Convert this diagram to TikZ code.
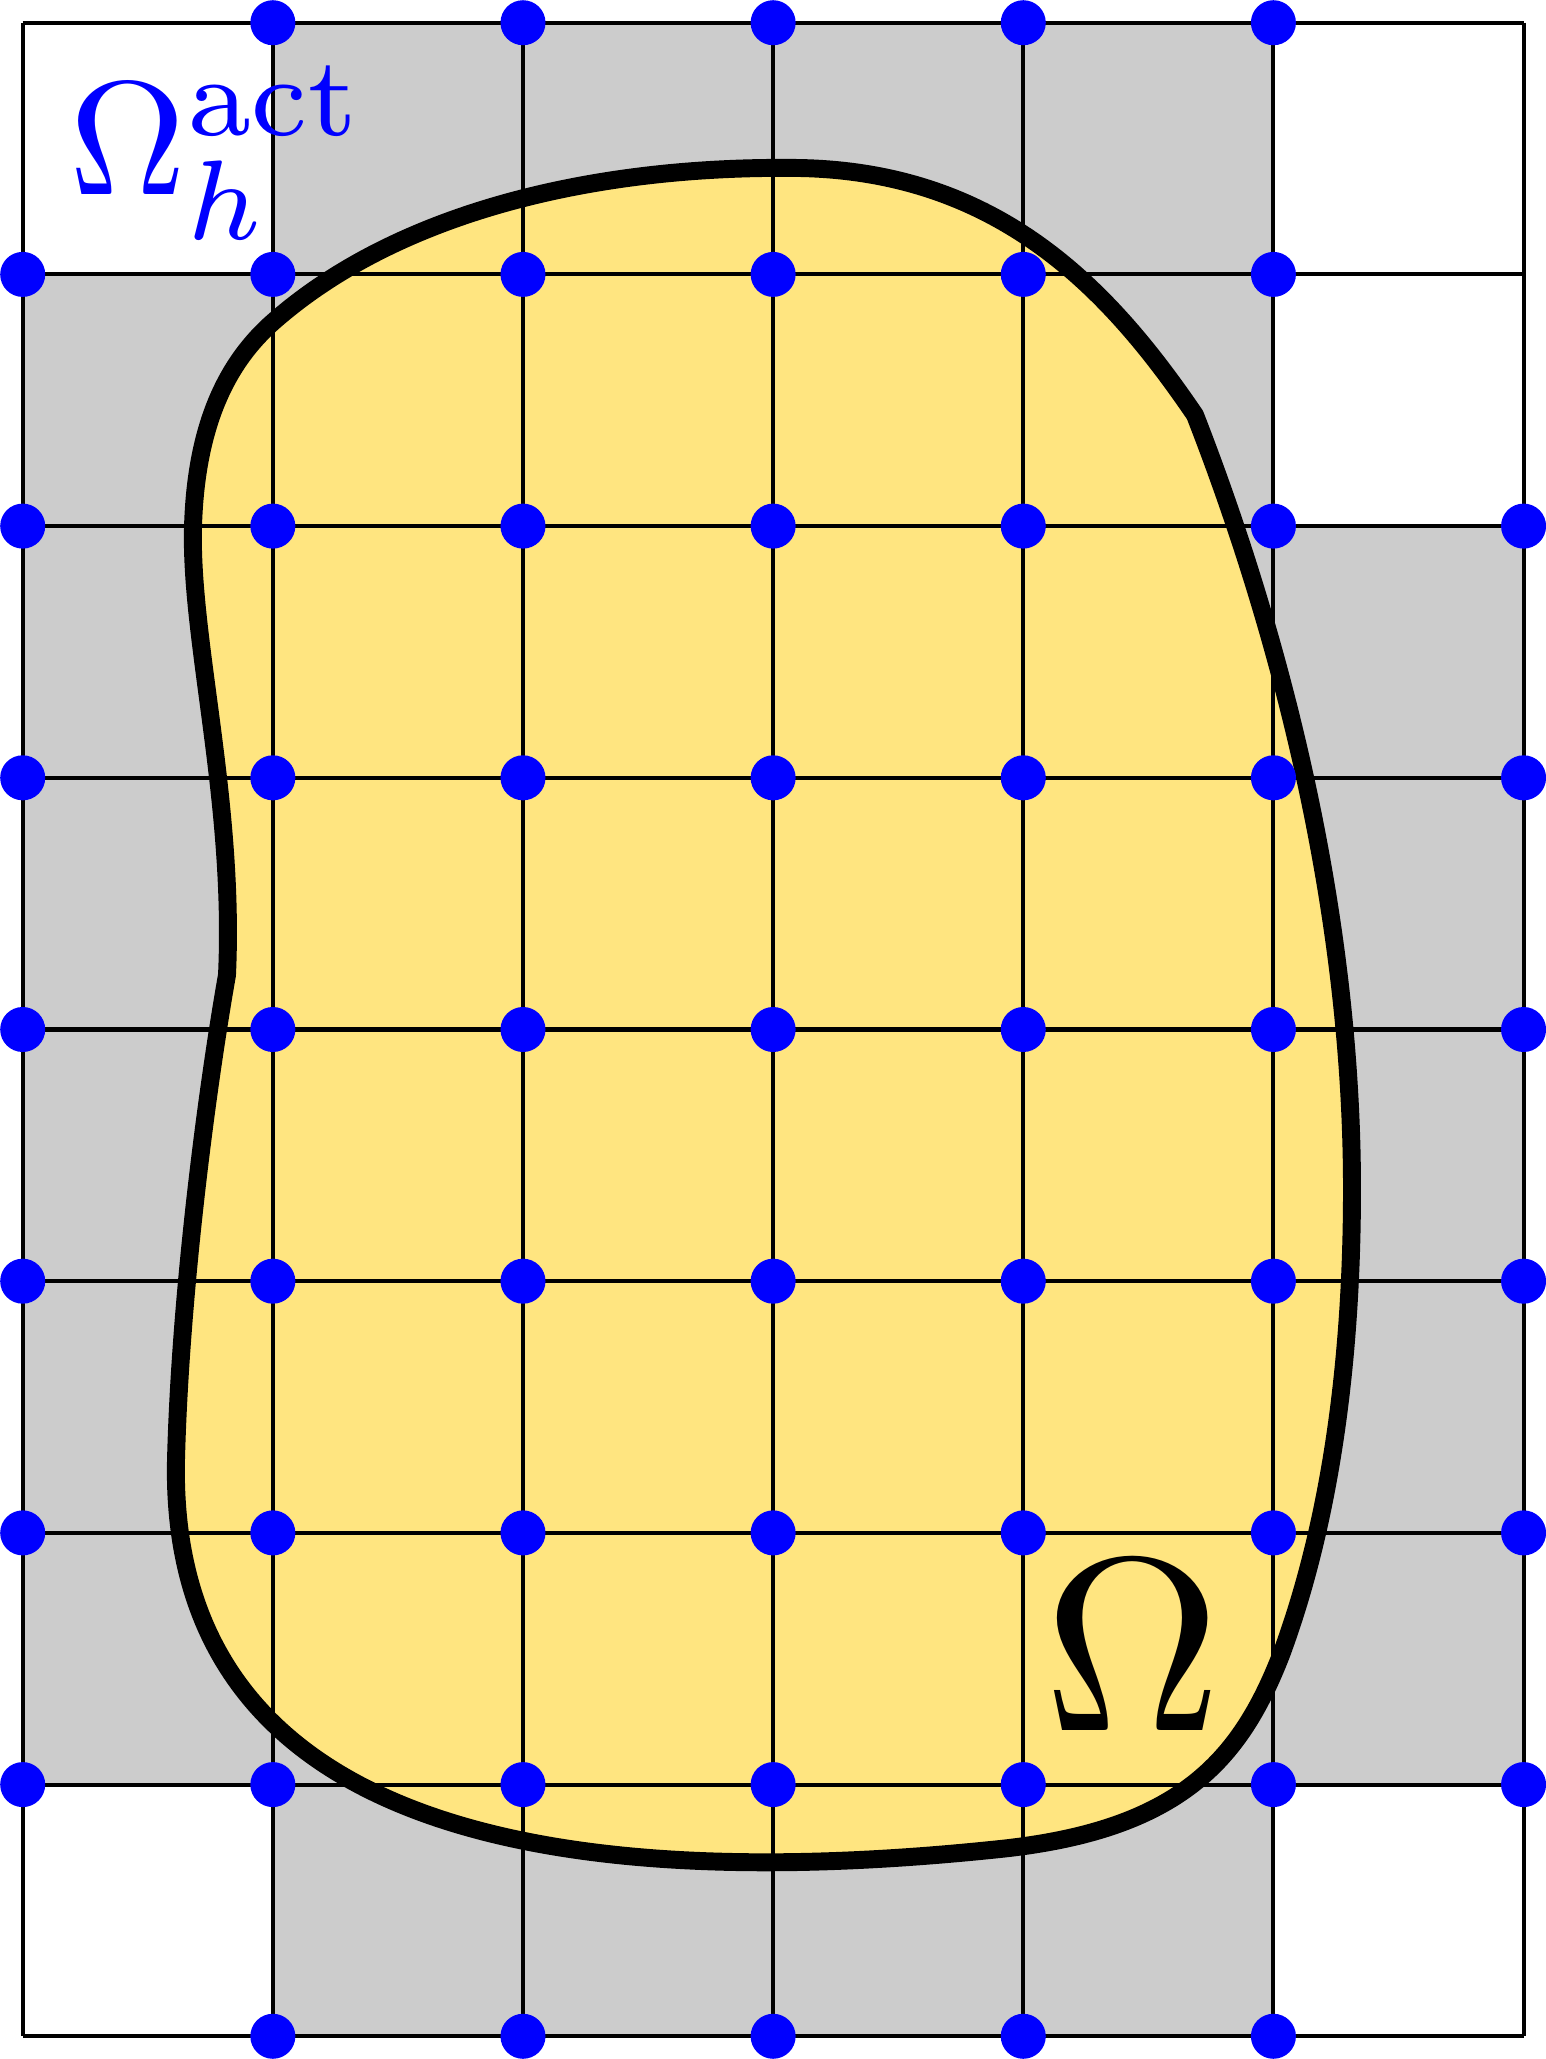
\documentclass[tikz,border=0pt]{standalone}
\definecolor{activegray}{RGB}{204,204,204}
\definecolor{domainyellow}{RGB}{255,229,128}
\begin{document}
\begin{tikzpicture}[x=0.01cm,y=-0.01cm,
  gridline/.style={line width=1.14pt,black},
  boundary/.style={line width=5.1pt,black,line join=round},
  dofdot/.style={circle,fill=blue,inner sep=0pt,minimum size=0.45cm},
  lbl/.style={inner sep=0pt}]
\useasboundingbox (0,0) rectangle (1546,2059);
\def\domainpath{(227,975) .. controls (235,800) and (190,640) .. (193,527)
 .. controls (196,420) and (230,360) .. (273,322)
 .. controls (400,210) and (600,165) .. (800,168)
 .. controls (1000,172) and (1110,290) .. (1195,415)
 .. controls (1275,620) and (1352,900) .. (1352,1189)
 .. controls (1352,1400) and (1320,1550) .. (1281,1655)
 .. controls (1240,1760) and (1180,1830) .. (1000,1849)
 .. controls (553,1896) and (168,1830) .. (176,1460)
 .. controls (180,1300) and (205,1100) .. (227,975) -- cycle}
% active cells
\begin{scope}[shift={(22.7,22.7)},x=2.5cm,y=-2.5155cm]
  \fill[activegray] (1,0) rectangle (5,1) (0,1) rectangle (5,2) (0,2) rectangle (6,7) (1,7) rectangle (5,8);
\end{scope}
% physical domain
\fill[domainyellow] \domainpath;
% grid
\begin{scope}[shift={(22.7,22.7)},x=2.5cm,y=-2.5155cm]
  \foreach \i in {0,...,6} \draw[gridline] (\i,0) -- (\i,8);
  \foreach \j in {0,...,8} \draw[gridline] (0,\j) -- (6,\j);
\end{scope}
% boundary
\draw[boundary] \domainpath;
% dofs
\begin{scope}[shift={(22.7,22.7)},x=2.5cm,y=-2.5155cm]
  \foreach \i in {1,...,5} {\node[dofdot] (d-\i-0) at (\i,0) {}; \node[dofdot] (d-\i-8) at (\i,8) {};}
  \foreach \i in {0,...,5} \node[dofdot] (d-\i-1) at (\i,1) {};
  \foreach \j in {2,...,7} \foreach \i in {0,...,6} \node[dofdot] (d-\i-\j) at (\i,\j) {};
\end{scope}
% labels
\node[lbl,anchor=base west,text=blue,scale=4.6] (omegaact) at (66,194) {$\Omega_h^{\mathrm{act}}$};
\node[lbl,anchor=base,scale=7.03] (omega) at (1133,1730) {$\Omega$};
\end{tikzpicture}
\end{document}
